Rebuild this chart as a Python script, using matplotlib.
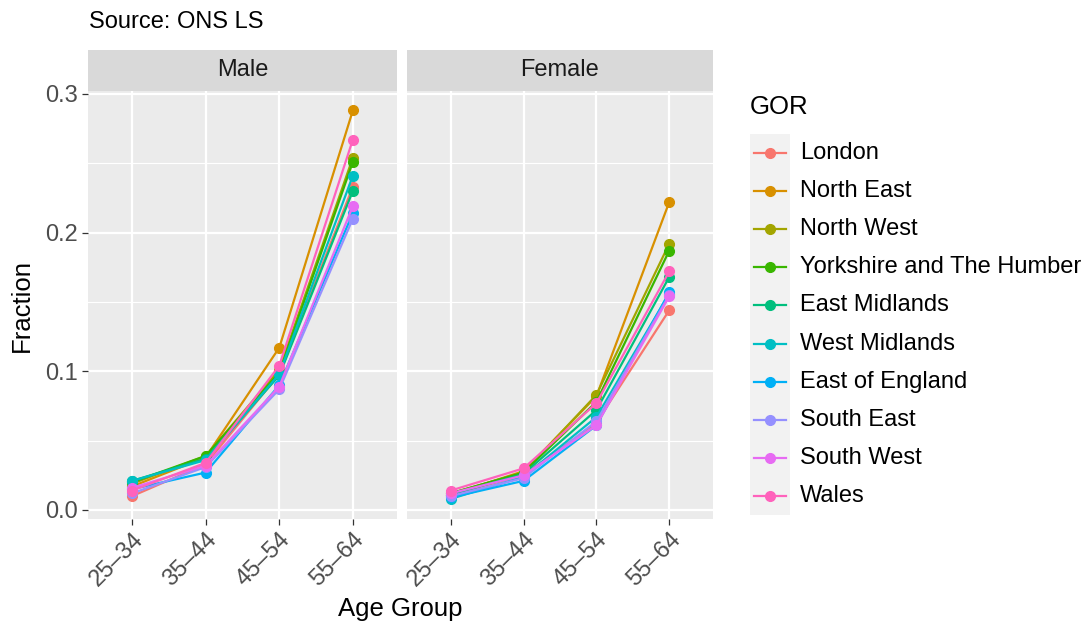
import matplotlib
matplotlib.use("Agg")
import matplotlib.pyplot as plt
from matplotlib.patches import Rectangle
from matplotlib.lines import Line2D

plt.rcParams['font.family'] = ['Liberation Sans', 'DejaVu Sans']

age_groups = ["25\u201334", "35\u201344", "45\u201354", "55\u201364"]
regions = ["London", "North East", "North West", "Yorkshire and The Humber",
           "East Midlands", "West Midlands", "East of England", "South East",
           "South West", "Wales"]
colors = ["#F8766D", "#D89000", "#A3A500", "#39B600", "#00BF7D",
          "#00BFC4", "#00B0F6", "#9590FF", "#E76BF3", "#FF62BC"]

male = {
    "London":                   [0.010, 0.033, 0.098, 0.233],
    "North East":               [0.017, 0.038, 0.117, 0.288],
    "North West":               [0.019, 0.039, 0.101, 0.254],
    "Yorkshire and The Humber": [0.020, 0.039, 0.099, 0.251],
    "East Midlands":            [0.021, 0.037, 0.097, 0.230],
    "West Midlands":            [0.021, 0.036, 0.098, 0.241],
    "East of England":          [0.015, 0.027, 0.090, 0.214],
    "South East":               [0.012, 0.031, 0.087, 0.210],
    "South West":               [0.016, 0.032, 0.089, 0.219],
    "Wales":                    [0.014, 0.034, 0.104, 0.267],
}
female = {
    "London":                   [0.011, 0.025, 0.063, 0.144],
    "North East":               [0.011, 0.028, 0.082, 0.222],
    "North West":               [0.012, 0.027, 0.083, 0.192],
    "Yorkshire and The Humber": [0.012, 0.027, 0.078, 0.187],
    "East Midlands":            [0.011, 0.026, 0.072, 0.168],
    "West Midlands":            [0.008, 0.024, 0.067, 0.156],
    "East of England":          [0.009, 0.021, 0.061, 0.157],
    "South East":               [0.010, 0.023, 0.064, 0.155],
    "South West":               [0.012, 0.025, 0.061, 0.154],
    "Wales":                    [0.014, 0.030, 0.077, 0.172],
}
panels = [("Male", male), ("Female", female)]

W, H = 1092, 627
fig = plt.figure(figsize=(W / 100, H / 100), dpi=100)
fig.patch.set_facecolor("white")


def px_axes(left, top, right, bottom, **kw):
    return fig.add_axes([left / W, 1 - bottom / H, (right - left) / W, (bottom - top) / H], **kw)


panel_x = [(88, 397), (407, 713)]
ptop, pbot = 91, 519
stop = 50
x = list(range(1, len(age_groups) + 1))
TXT = 17

for i, ((name, data), (l, r)) in enumerate(zip(panels, panel_x)):
    ax = px_axes(l, ptop, r, pbot)
    ax.set_facecolor("#EBEBEB")
    for s in ax.spines.values():
        s.set_visible(False)
    ax.set_xlim(0.4, 4.6)
    ax.set_ylim(-0.0065, 0.302)
    for yv in [0.05, 0.15, 0.25]:
        ax.axhline(yv, color="white", lw=0.8, zorder=0)
    for yv in [0.0, 0.1, 0.2, 0.3]:
        ax.axhline(yv, color="white", lw=1.6, zorder=0)
    for xv in x:
        ax.axvline(xv, color="white", lw=1.6, zorder=0)
    for reg, col in zip(regions, colors):
        ax.plot(x, data[reg], color=col, lw=1.6, marker="o", ms=7,
                zorder=3, solid_capstyle="butt")
    ax.set_xticks(x)
    ax.set_xticklabels(age_groups, rotation=45, ha="right", rotation_mode="anchor",
                       fontsize=TXT)
    ax.tick_params(axis="x", colors="#333333", labelcolor="#4D4D4D",
                   length=4, width=0.9, pad=3)
    if i == 0:
        ax.set_yticks([0.0, 0.1, 0.2, 0.3])
        ax.set_yticklabels(["0.0", "0.1", "0.2", "0.3"], fontsize=TXT)
        ax.tick_params(axis="y", colors="#333333", labelcolor="#4D4D4D",
                       length=4, width=0.9, pad=3)
    else:
        ax.set_yticks([0.0, 0.1, 0.2, 0.3])
        ax.tick_params(axis="y", left=False, labelleft=False)

    sax = px_axes(l, stop, r, ptop)
    sax.set_facecolor("#D9D9D9")
    sax.set_xticks([])
    sax.set_yticks([])
    for s in sax.spines.values():
        s.set_visible(False)
    sax.text(0.5, 0.5, name, ha="center", va="center", fontsize=TXT,
             color="#1A1A1A", transform=sax.transAxes)

# axis titles and caption
fig.text((88 + 713) / 2 / W, 1 - 609 / H, "Age Group", ha="center", va="center", fontsize=18.5)
fig.text(22 / W, 1 - 305 / H, "Fraction", ha="center", va="center", rotation=90, fontsize=18.5)
fig.text(89 / W, 1 - 22 / H, "Source: ONS LS", ha="left", va="center", fontsize=TXT)

# legend
lax = px_axes(0, 0, W, H)
lax.set_xlim(0, W)
lax.set_ylim(H, 0)
lax.axis("off")
lax.patch.set_alpha(0)
lax.text(750, 107, "GOR", ha="left", va="center", fontsize=18.5)
row0, step = 153, 38.1
for k, (reg, col) in enumerate(zip(regions, colors)):
    yc = row0 + k * step
    lax.add_patch(Rectangle((750, yc - step / 2), 40, step, facecolor="#F2F2F2",
                            edgecolor="none"))
    lax.add_line(Line2D([754, 786], [yc, yc], color=col, lw=1.6))
    lax.plot([770], [yc], marker="o", ms=7, color=col)
    lax.text(800, yc, reg, ha="left", va="center", fontsize=TXT)

fig.savefig("out.png", dpi=100, facecolor="white")
